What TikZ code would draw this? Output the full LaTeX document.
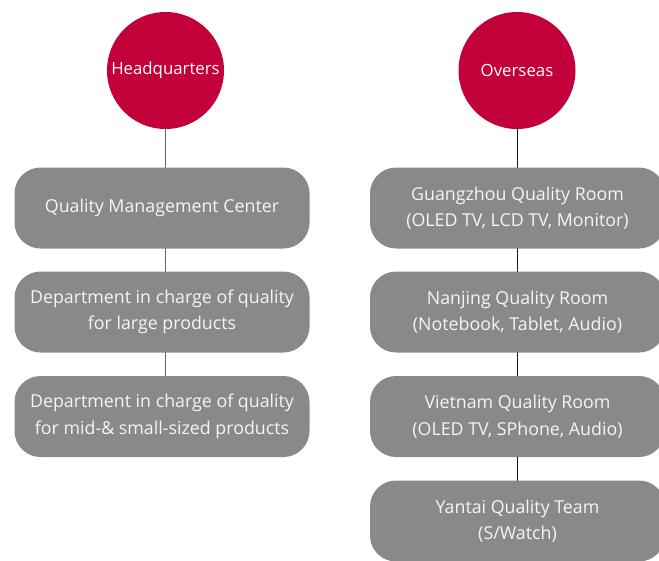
\documentclass[tikz,border=0pt]{standalone}
\usepackage{fontspec}
\setmainfont{Open Sans}
\definecolor{lgred}{HTML}{C20039}
\definecolor{boxgray}{HTML}{898989}
\begin{document}
\begin{tikzpicture}[x=1pt,y=-1pt,line join=round,line cap=round,
  hub/.style={circle,fill=lgred,text=white,minimum size=117pt,inner sep=0pt,font=\fontsize{16.8}{18}\selectfont},
  unit/.style={rounded corners=26pt,fill=boxgray,text=white!96!black,minimum width=295pt,minimum height=81pt,inner sep=0pt,align=center,font=\fontsize{17.8}{26.5}\selectfont},
  link/.style={draw=black!60,line width=0.9pt}]
\useasboundingbox (0,0) rectangle (659,560);
\clip (0,0) rectangle (659,560);
% Headquarters
\node[hub] (hq) at (165.5,70.5) {Headquarters};
\node[unit] (qmc) at (162,208) {Quality Management Center};
\node[unit] (large) at (162,312) {Department in charge of quality\\for large products};
\node[unit] (small) at (162,416.5) {Department in charge of quality\\for mid-\& small-sized products};
% Overseas
\node[hub] (ovs) at (517,70.5) {Overseas};
\node[unit] (gz) at (517.5,208) {Guangzhou Quality Room\\(OLED TV, LCD TV, Monitor)};
\node[unit] (nj) at (517.5,312) {Nanjing Quality Room\\(Notebook, Tablet, Audio)};
\node[unit] (vn) at (517.5,416.5) {Vietnam Quality Room\\(OLED TV, SPhone, Audio)};
\node[unit] (yt) at (517.5,521) {Yantai Quality Team\\(S/Watch)};
\begin{scope}[on background layer/.try]
\draw[link] (hq.south) -- (hq.south |- qmc.north);
\draw[link] (qmc.south -| hq) -- (large.north -| hq);
\draw[link] (large.south -| hq) -- (small.north -| hq);
\draw[link,draw=black!90] (ovs.south) -- (ovs.south |- gz.north);
\foreach \a/\b in {gz/nj, nj/vn, vn/yt}{\draw[link,draw=black!90] (\a.south -| ovs) -- (\b.north -| ovs);}
\end{scope}
\end{tikzpicture}
\end{document}
